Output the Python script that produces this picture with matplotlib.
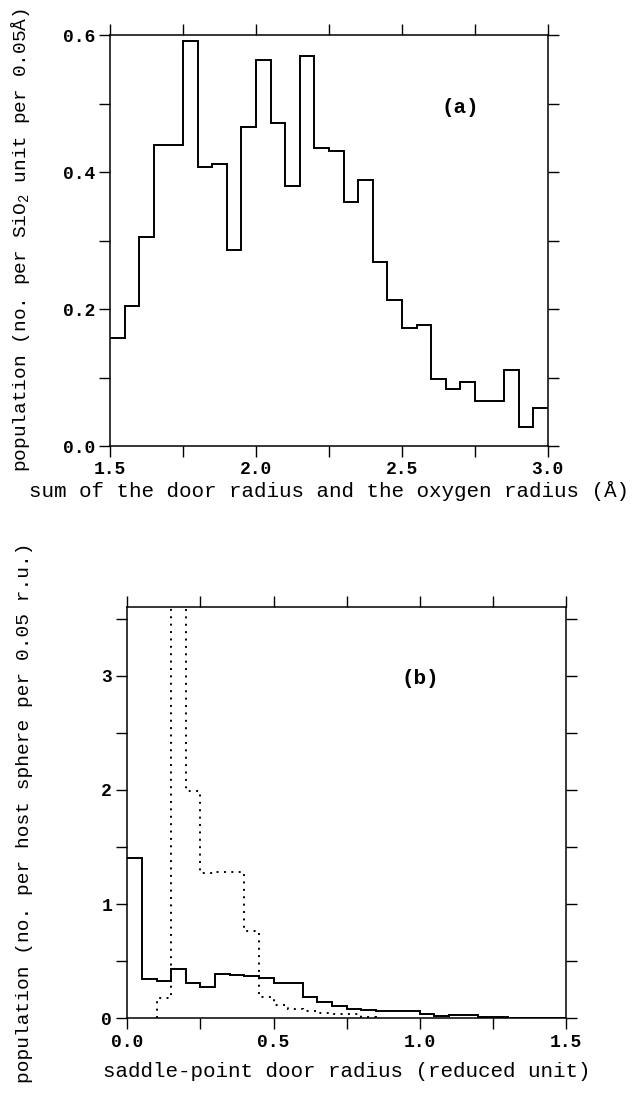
import numpy as np
import matplotlib
matplotlib.use("Agg")
import matplotlib.pyplot as plt
from matplotlib.ticker import MultipleLocator, FormatStrFormatter

plt.rcParams['font.family'] = ['Liberation Mono', 'DejaVu Sans Mono']
plt.rcParams['font.weight'] = 'bold'
plt.rcParams['mathtext.fontset'] = 'custom'
plt.rcParams['mathtext.rm'] = 'Liberation Mono:bold'
plt.rcParams['mathtext.default'] = 'regular'

# (a) door radius + oxygen radius, bins of 0.05 A from 1.5 to 3.0
a_start, a_stop, bin_w = 1.5, 3.0, 0.05
pop_a = [0.158, 0.205, 0.305, 0.439, 0.439, 0.591, 0.407, 0.411, 0.286, 0.466,
         0.564, 0.471, 0.379, 0.569, 0.435, 0.430, 0.356, 0.388, 0.268, 0.213,
         0.172, 0.177, 0.098, 0.083, 0.093, 0.066, 0.066, 0.111, 0.028, 0.056]

# (b) saddle-point door radius, bins of 0.05 r.u. from 0.0 to 1.5
b_start = 0.0
pop_b_solid = [1.40, 0.342, 0.330, 0.432, 0.312, 0.277, 0.389, 0.380, 0.374, 0.357,
               0.307, 0.307, 0.190, 0.140, 0.110, 0.080, 0.070, 0.060, 0.065, 0.065,
               0.035, 0.020, 0.030, 0.030, 0.012, 0.008, 0.005, 0.0, 0.0, 0.0]
# dotted curve starts at 0.10; the 0.15-0.20 bin runs off the top of the scale
b_dot_start = 0.10
pop_b_dotted = [0.18, 4.0, 1.99, 1.27, 1.28, 1.28, 0.767, 0.19, 0.12, 0.08,
                0.06, 0.05, 0.04, 0.035, 0.01]


def edges(start, n):
    return start + bin_w * np.arange(n + 1)


def style_axes(ax):
    for s in ax.spines.values():
        s.set_linewidth(1.1)
    ax.tick_params(which='both', direction='out', length=8, width=1.0,
                   top=True, right=True, labelsize=13, pad=3)


fig = plt.figure(figsize=(6.4, 10.94), dpi=100)

# ---- panel (a)
ax1 = fig.add_axes([0.172, 0.5923, 0.684, 0.3757])
ax1.stairs(pop_a, edges(a_start, len(pop_a)), baseline=None,
           color='black', linewidth=1.4)
ax1.set_xlim(1.5, 3.0)
ax1.set_ylim(0.0, 0.6)
ax1.xaxis.set_major_locator(MultipleLocator(0.5))
ax1.xaxis.set_minor_locator(MultipleLocator(0.25))
ax1.yaxis.set_major_locator(MultipleLocator(0.2))
ax1.yaxis.set_minor_locator(MultipleLocator(0.1))
ax1.xaxis.set_major_formatter(FormatStrFormatter('%.1f'))
ax1.yaxis.set_major_formatter(FormatStrFormatter('%.1f'))
style_axes(ax1)
ax1.set_xlabel("sum of the door radius and the oxygen radius (Å)",
               fontsize=15, labelpad=2)
ax1.set_ylabel("population (no. per SiO$_2$ unit per 0.05Å)",
               fontsize=14, labelpad=22)
ax1.text(2.70, 0.494, "(a)", fontsize=15, ha='center', va='center')

# ---- panel (b)
ax2 = fig.add_axes([0.199, 0.0692, 0.6855, 0.3757])
ax2.stairs(pop_b_solid, edges(b_start, len(pop_b_solid)), baseline=None,
           color='black', linewidth=1.4)
ax2.stairs(pop_b_dotted, edges(b_dot_start, len(pop_b_dotted)), baseline=0,
           color='black', linewidth=1.4, linestyle=(0, (1, 2.8)))
ax2.set_xlim(0.0, 1.5)
ax2.set_ylim(0.0, 3.6)
ax2.xaxis.set_major_locator(MultipleLocator(0.5))
ax2.xaxis.set_minor_locator(MultipleLocator(0.25))
ax2.yaxis.set_major_locator(MultipleLocator(1))
ax2.yaxis.set_minor_locator(MultipleLocator(0.5))
ax2.xaxis.set_major_formatter(FormatStrFormatter('%.1f'))
ax2.yaxis.set_major_formatter(FormatStrFormatter('%d'))
style_axes(ax2)
ax2.set_xlabel("saddle-point door radius (reduced unit)", fontsize=15, labelpad=8)
ax2.set_ylabel("population (no. per host sphere per 0.05 r.u.)",
               fontsize=14, labelpad=49)
ax2.text(1.0, 2.98, "(b)", fontsize=15, ha='center', va='center')

fig.savefig("out.png", dpi=100)
